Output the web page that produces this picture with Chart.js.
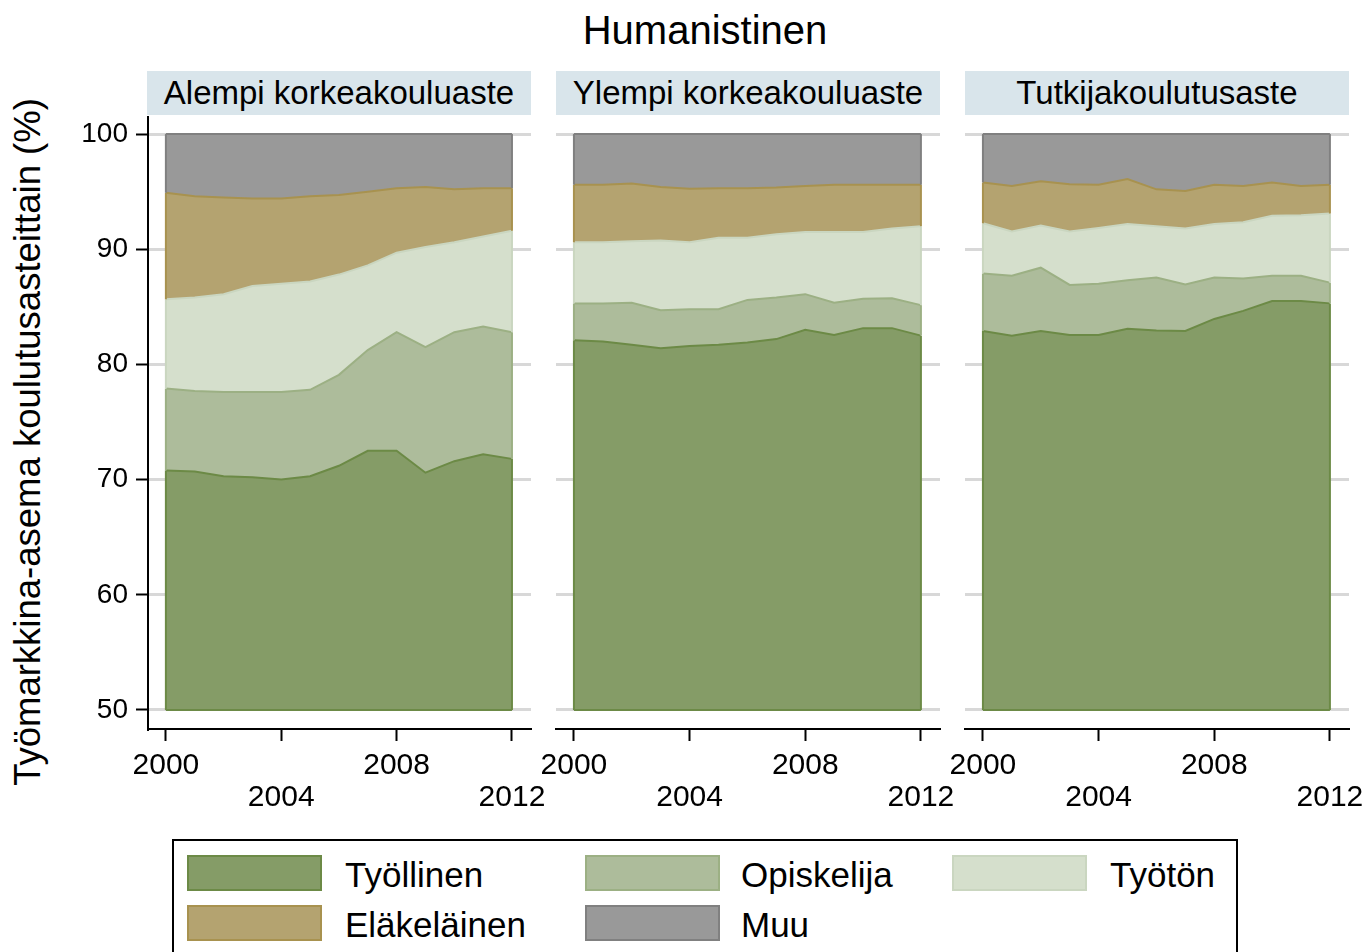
<!DOCTYPE html>
<html>
<head>
<meta charset="utf-8">
<script src="https://cdn.jsdelivr.net/npm/chart.js@4.4.1/dist/chart.umd.min.js"></script>
<style>
  body { margin: 0; background: #fff; font-family: "Liberation Sans", Arial, sans-serif; }
  #wrap { position: relative; width: 1366px; height: 952px; overflow: hidden; }
  .abs { position: absolute; }
  .strip { position: absolute; top: 71px; height: 44px; width: 384px; background: #d9e5eb;
           font-size: 33px; line-height: 44px; text-align: center; color: #000; white-space: nowrap; }
  #title { left: 405px; width: 600px; top: 8px; text-align: center; font-size: 40px; }
  #ytitle { left: 28px; top: 442px; transform: translate(-50%, -50%) rotate(-90deg);
            font-size: 36.5px; white-space: nowrap; }
  #legend { left: 172px; top: 839px; width: 1062px; height: 140px; border: 2px solid #000; }
  .sw { position: absolute; width: 131px; height: 32px; border: 2.5px solid; }
  .lt { position: absolute; font-size: 35px; line-height: 37px; white-space: nowrap; }
  canvas { position: absolute; }
</style>
</head>
<body>
<div id="wrap">
  <div id="title" class="abs">Humanistinen</div>
  <div id="ytitle" class="abs">Työmarkkina-asema koulutusasteittain (%)</div>
  <div class="strip" style="left:147px">Alempi korkeakouluaste</div>
  <div class="strip" style="left:556px">Ylempi korkeakouluaste</div>
  <div class="strip" style="left:965px">Tutkijakoulutusaste</div>
  <div style="position:absolute;left:60px;top:97px;width:488px;height:722px"><canvas id="p1"></canvas></div>
  <div style="position:absolute;left:526px;top:97px;width:431px;height:722px"><canvas id="p2"></canvas></div>
  <div style="position:absolute;left:935px;top:97px;width:431px;height:722px"><canvas id="p3"></canvas></div>
  <div id="legend" class="abs"></div>
</div>
<script>
var years = [2000, 2001, 2002, 2003, 2004, 2005, 2006, 2007, 2008, 2009, 2010, 2011, 2012];
var xTicks = [2000, 2004, 2008, 2012];
var yTicks = [50, 60, 70, 80, 90, 100];
var seriesNames = ['Työllinen', 'Opiskelija', 'Työtön', 'Eläkeläinen', 'Muu'];
var fillColors = ['#859c67', '#adbc9b', '#d5dfcc', '#b4a370', '#999999'];
var lineColors = ['#6c8a46', '#9cb084', '#cad6c0', '#a8924f', '#808080'];

// Alempi korkeakouluaste
var tyollinenAlempi = [70.8, 70.7, 70.3, 70.2, 70.0, 70.3, 71.2, 72.5, 72.5, 70.6, 71.6, 72.2, 71.8];
var opiskelijaAlempi = [7.1, 7.0, 7.3, 7.4, 7.6, 7.5, 7.9, 8.75, 10.3, 10.9, 11.2, 11.1, 11.0];
var tyotonAlempi = [7.75, 8.1, 8.5, 9.2, 9.4, 9.4, 8.7, 7.35, 6.9, 8.7, 7.8, 7.8, 8.8];
var elakeAlempi = [9.25, 8.8, 8.4, 7.6, 7.4, 7.4, 6.9, 6.4, 5.6, 5.2, 4.6, 4.2, 3.7];
var muuAlempi = [5.1, 5.4, 5.5, 5.6, 5.6, 5.4, 5.3, 5.0, 4.7, 4.6, 4.8, 4.7, 4.7];

// Ylempi korkeakouluaste
var tyollinenYlempi = [82.1, 82.0, 81.7, 81.4, 81.6, 81.7, 81.9, 82.2, 83.0, 82.55, 83.15, 83.15, 82.5];
var opiskelijaYlempi = [3.2, 3.3, 3.65, 3.3, 3.2, 3.1, 3.7, 3.6, 3.1, 2.8, 2.55, 2.6, 2.65];
var tyotonYlempi = [5.3, 5.3, 5.35, 6.05, 5.8, 6.2, 5.4, 5.5, 5.4, 6.15, 5.8, 6.05, 6.85];
var elakeYlempi = [5.0, 5.0, 5.0, 4.65, 4.65, 4.3, 4.3, 4.05, 4.0, 4.1, 4.1, 3.8, 3.6];
var muuYlempi = [4.4, 4.4, 4.3, 4.6, 4.75, 4.7, 4.7, 4.65, 4.5, 4.4, 4.4, 4.4, 4.4];

// Tutkijakoulutusaste
var tyollinenTutkija = [82.9, 82.5, 82.9, 82.55, 82.55, 83.1, 82.95, 82.9, 83.95, 84.65, 85.5, 85.5, 85.3];
var opiskelijaTutkija = [5.0, 5.2, 5.5, 4.35, 4.45, 4.2, 4.6, 4.05, 3.6, 2.8, 2.2, 2.2, 1.8];
var tyotonTutkija = [4.35, 3.85, 3.65, 4.65, 4.85, 4.9, 4.45, 4.85, 4.65, 4.9, 5.2, 5.25, 6.0];
var elakeTutkija = [3.55, 3.95, 3.85, 4.1, 3.75, 3.9, 3.2, 3.25, 3.4, 3.15, 2.9, 2.55, 2.5];
var muuTutkija = [4.2, 4.5, 4.1, 4.35, 4.4, 3.9, 4.8, 4.95, 4.4, 4.5, 4.2, 4.5, 4.4];

var FONT = '"Liberation Sans", Arial, sans-serif';

// outline the left/right edges and the base of each area, like the original
var edgePlugin = {
    id: 'areaEdges',
    afterDatasetsDraw: function (chart) {
        var ctx = chart.ctx;
        var ys = chart.scales.y;
        var base = ys.getPixelForValue(50);
        ctx.save();
        ctx.lineWidth = 2;
        chart.data.datasets.forEach(function (ds, i) {
            var pts = chart.getDatasetMeta(i).data;
            var prev = i > 0 ? chart.getDatasetMeta(i - 1).data : null;
            ctx.strokeStyle = ds.borderColor;
            [0, pts.length - 1].forEach(function (j) {
                var bot = prev ? prev[j].y : base;
                ctx.beginPath();
                ctx.moveTo(pts[j].x, bot);
                ctx.lineTo(pts[j].x, pts[j].y);
                ctx.stroke();
            });
            if (i === 0) {
                ctx.beginPath();
                ctx.moveTo(pts[0].x, base);
                ctx.lineTo(pts[pts.length - 1].x, base);
                ctx.stroke();
            }
        });
        ctx.restore();
    }
};

function makePanel(id, series, showY) {
    var el = document.getElementById(id);
    var datasets = series.map(function (vals, i) {
        return {
            label: seriesNames[i],
            data: years.map(function (y, k) { return { x: y, y: vals[k] }; }),
            backgroundColor: fillColors[i],
            borderColor: lineColors[i],
            borderWidth: 2,
            pointRadius: 0,
            tension: 0,
            fill: i === 0 ? { value: 50 } : '-1'
        };
    });
    return new Chart(el.getContext('2d'), {
        type: 'line',
        data: { datasets: datasets },
        plugins: [edgePlugin],
        options: {
            responsive: true,
            maintainAspectRatio: false,
            animation: false,
            layout: { padding: { top: 20, right: 17, left: showY ? 0 : 30, bottom: 0 } },
            plugins: {
                legend: { display: false },
                tooltip: { enabled: false },
                filler: { drawTime: 'beforeDatasetsDraw' }
            },
            scales: {
                x: {
                    type: 'linear',
                    min: 1999.38,
                    max: 2012.66,
                    afterBuildTicks: function (s) { s.ticks = xTicks.map(function (v) { return { value: v }; }); },
                    afterFit: function (s) {
                        s.height = 90;
                        s.paddingLeft = 0; s.paddingRight = 0;
                    },
                    border: { display: true, color: '#000', width: 2 },
                    grid: { drawOnChartArea: false, drawTicks: true, tickLength: 12, tickColor: '#000', tickWidth: 2 },
                    ticks: {
                        maxRotation: 0,
                        autoSkip: false,
                        padding: 9,
                        color: '#000',
                        font: { family: FONT, size: 30, lineHeight: 1.05 },
                        callback: function (v, idx) { return idx % 2 === 1 ? ['', String(v)] : String(v); }
                    }
                },
                y: {
                    type: 'linear',
                    stacked: true,
                    min: 48.35,
                    max: 101.48,
                    afterBuildTicks: function (s) { s.ticks = yTicks.map(function (v) { return { value: v }; }); },
                    afterFit: function (s) {
                        s.width = showY ? 88 : 0;
                        s.paddingTop = 0; s.paddingBottom = 0;
                    },
                    border: { display: showY, color: '#000', width: 2 },
                    grid: {
                        color: '#d8d8d8', lineWidth: 3,
                        drawTicks: showY, tickLength: 12, tickColor: '#000', tickWidth: 2
                    },
                    ticks: {
                        display: showY,
                        padding: 8,
                        color: '#000',
                        font: { family: FONT, size: 28 }
                    }
                }
            }
        }
    });
}

makePanel('p1', [tyollinenAlempi, opiskelijaAlempi, tyotonAlempi, elakeAlempi, muuAlempi], true);
makePanel('p2', [tyollinenYlempi, opiskelijaYlempi, tyotonYlempi, elakeYlempi, muuYlempi], false);
makePanel('p3', [tyollinenTutkija, opiskelijaTutkija, tyotonTutkija, elakeTutkija, muuTutkija], false);

// legend
var legendPos = [
    { sx: 13, sy: 14, tx: 171 },
    { sx: 411, sy: 14, tx: 567 },
    { sx: 778, sy: 14, tx: 936 },
    { sx: 13, sy: 64, tx: 171 },
    { sx: 411, sy: 64, tx: 567 }
];
var leg = document.getElementById('legend');
seriesNames.forEach(function (name, si) {
    var p = legendPos[si];
    var sw = document.createElement('div');
    sw.className = 'sw';
    sw.style.left = p.sx + 'px';
    sw.style.top = p.sy + 'px';
    sw.style.background = fillColors[si];
    sw.style.borderColor = lineColors[si];
    leg.appendChild(sw);
    var t = document.createElement('div');
    t.className = 'lt';
    t.style.left = p.tx + 'px';
    t.style.top = (p.sy + 1) + 'px';
    t.textContent = name;
    leg.appendChild(t);
});
</script>
</body>
</html>
